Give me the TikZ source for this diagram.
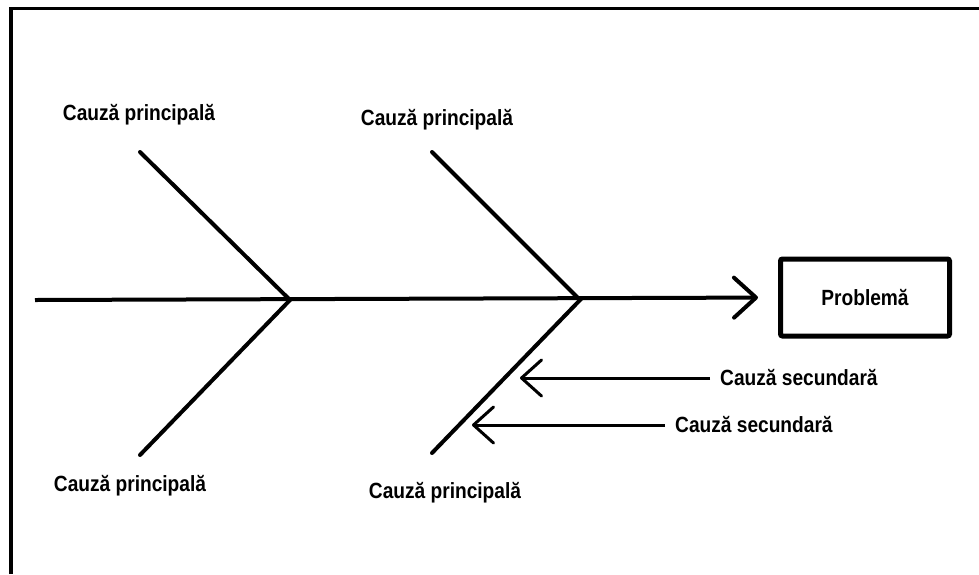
\documentclass[tikz,border=0pt]{standalone}
\usepackage{fontspec}
\setmainfont{Liberation Sans}[FakeStretch=0.87]
\usepackage{tikz}
\usetikzlibrary{arrows.meta}

\begin{document}
\begin{tikzpicture}[x=1pt,y=-1pt,
        bone/.style={line width=4pt, line cap=round},
        cause/.style={font=\fontsize{22}{25}\selectfont\bfseries, inner sep=0pt},
        sec/.style={line width=3pt, -{Straight Barb[length=20pt,width=36pt,round]}, shorten <=10pt}]
        \useasboundingbox (0,0) rectangle (979,574);
        % frame, only top and left
        \draw[line width=3.5pt] (11,574) -- (11,8.5) -- (979,8.5);
        % the head of the fish
        \node[draw, line width=5pt, rounded corners=2pt, minimum width=169pt, minimum height=77pt,
              font=\fontsize{22}{25}\selectfont\bfseries] (problem) at (865,297.5) {Problemă};
        \coordinate (tail) at (35,300);
        \coordinate (j1) at (290,300);
        \coordinate (j2) at (580,300);
        \draw[line width=4pt, -{Straight Barb[length=22pt,width=40pt,round]}, shorten >=20pt]
              (tail) -- (problem.west);
        % main causes
        \node[cause] (c1) at (139,115) {Cauză principală};
        \node[cause] (c2) at (437,120) {Cauză principală};
        \node[cause] (c3) at (130,486) {Cauză principală};
        \node[cause] (c4) at (445,493) {Cauză principală};
        \coordinate (b1) at (140,152);
        \coordinate (b2) at (432,152);
        \coordinate (b3) at (140,455);
        \coordinate (b4) at (432,453);
        \draw[bone] (b1) -- (j1) -- (b3);
        \draw[bone] (b2) -- (j2) -- (b4);
        % now the secondary causes
        \node[cause, anchor=west] (s1) at (720,378) {Cauză secundară};
        \node[cause, anchor=west] (s2) at (675,425) {Cauză secundară};
        \coordinate (t1) at (520,378);
        \coordinate (t2) at (472,425);
        \draw[sec] (s1.west) -- (t1);
        \draw[sec] (s2.west) -- (t2);
    \end{tikzpicture}
\end{document}
